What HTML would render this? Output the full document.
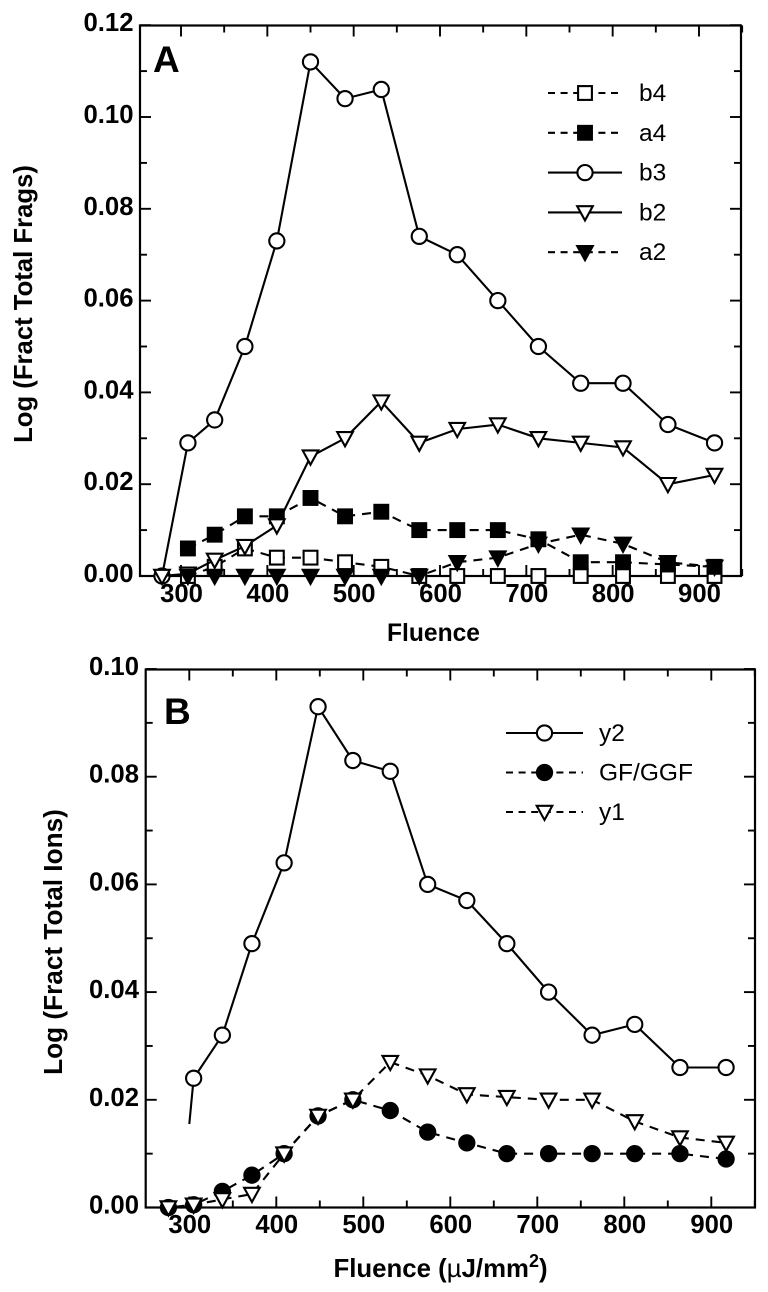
<!DOCTYPE html>
<html>
<head>
<meta charset="utf-8">
<style>
html,body{margin:0;padding:0;background:#fff;}
svg{display:block;font-family:"Liberation Sans",sans-serif;}
</style>
</head>
<body>
<svg id="chart" xmlns="http://www.w3.org/2000/svg" width="768" height="1292" viewBox="0 0 768 1292">
<rect width="768" height="1292" fill="#fff"/>
</svg>
<script>
// Shared tick labels
const xTickLabelsA = ['300','400','500','600','700','800','900'];
const xTickLabelsB = ['300','400','500','600','700','800','900'];
const yTickLabelsA = ['0.00','0.02','0.04','0.06','0.08','0.10','0.12'];
const yTickLabelsB = ['0.00','0.02','0.04','0.06','0.08','0.10'];

// Panel A data
const fluenceA = [278,308,339,374,411,450,490,532,576,620,667,714,763,812,864,918];
const b4Values = [null,0,0.002,0.006,0.004,0.004,0.003,0.002,0,0,0,0,0,0,0,0];
const a4Values = [null,0.006,0.009,0.013,0.013,0.017,0.013,0.014,0.010,0.010,0.010,0.008,0.003,0.003,0.0025,0.002];
const b3Values = [0,0.029,0.034,0.050,0.073,0.112,0.104,0.106,0.074,0.070,0.060,0.050,0.042,0.042,0.033,0.029];
const b2Values = [0,0.0005,0.0035,0.0065,0.011,0.026,0.030,0.038,0.029,0.032,0.033,0.030,0.029,0.028,0.020,0.022];
const a2Values = [null,0,0,0,0,0,0,0,0,0.003,0.004,0.007,0.009,0.007,0.003,0.002];

// Panel B data
const fluenceB = [276,305,338,372,409,448,488,531,574,619,665,713,763,812,864,917];
const y2Values = [null,0.024,0.032,0.049,0.064,0.093,0.083,0.081,0.060,0.057,0.049,0.040,0.032,0.034,0.026,0.026];
const gfValues = [0,0.0005,0.003,0.006,0.010,0.017,0.020,0.018,0.014,0.012,0.010,0.010,0.010,0.010,0.010,0.009];
const y1Values = [0,0.0005,0.0015,0.0025,0.010,0.017,0.020,0.027,0.0245,0.021,0.0205,0.020,0.020,0.016,0.013,0.012];
const y2StubFluence = [300];
const y2StubValue = [0.0155];

const svg = document.getElementById('chart');
const NS = 'http://www.w3.org/2000/svg';

function make(tag, attrs, parent) {
  const el = document.createElementNS(NS, tag);
  for (const k in attrs) el.setAttribute(k, attrs[k]);
  (parent || svg).appendChild(el);
  return el;
}

function drawMarker(group, kind, cx, cy) {
  const sw = 2.1;
  let el;
  if (kind === 'open-square' || kind === 'filled-square') {
    el = make('rect', {x: cx - 6.9, y: cy - 6.9, width: 13.8, height: 13.8, fill: kind === 'open-square' ? '#fff' : '#000', stroke: '#000', 'stroke-width': sw}, group);
  } else if (kind === 'open-circle' || kind === 'filled-circle') {
    el = make('circle', {cx: cx, cy: cy, r: 7.6, fill: kind === 'open-circle' ? '#fff' : '#000', stroke: '#000', 'stroke-width': sw}, group);
  } else {
    const pts = (cx - 7.8) + ',' + (cy - 6.2) + ' ' + (cx + 7.8) + ',' + (cy - 6.2) + ' ' + cx + ',' + (cy + 8);
    el = make('polygon', {points: pts, fill: kind === 'open-triangle' ? '#fff' : '#000', stroke: '#000', 'stroke-width': sw, 'stroke-linejoin': 'miter'}, group);
  }
  
  
}

function drawPanel(p) {
  const xs = v => p.x0 + (v - 600) * p.xScale;
  const ys = v => p.yZero - v * p.yScale;

  const frame = make('g', {stroke: '#000', 'stroke-width': 2.2, fill: 'none'});
  
  
  make('rect', {x: p.left, y: p.top, width: p.right - p.left, height: p.yZero - p.top}, frame);

  // x ticks, top and bottom
  p.xLabels.forEach((lab, i) => {
    const val = parseFloat(lab);
    [[val, 11], [val + 50, 7]].forEach(t => {
      const x = xs(t[0]);
      make('line', {x1: x, x2: x, y1: p.yZero, y2: p.yZero - t[1], 'stroke-width': 1.9}, frame);
      make('line', {x1: x, x2: x, y1: p.top, y2: p.top + t[1], 'stroke-width': 1.9}, frame);
    });
    const text = make('text', {x: xs(val) + 0.5, y: p.xLabelY, 'text-anchor': 'middle', 'font-size': 25.7, 'font-weight': 'bold', fill: '#000'});
    text.textContent = lab;
    
    
  });

  // y ticks, left and right
  p.yLabels.forEach((lab, i) => {
    const val = parseFloat(lab);
    const y = ys(val);
    if (i > 0) {
      make('line', {x1: p.left, x2: p.left + 11, y1: y, y2: y, 'stroke-width': 1.9}, frame);
      make('line', {x1: p.right, x2: p.right - 11, y1: y, y2: y, 'stroke-width': 1.9}, frame);
    }
    if (i < p.yLabels.length - 1) {
      const m = ys(val + 0.01);
      make('line', {x1: p.left, x2: p.left + 7, y1: m, y2: m, 'stroke-width': 1.9}, frame);
      make('line', {x1: p.right, x2: p.right - 7, y1: m, y2: m, 'stroke-width': 1.9}, frame);
    }
    const text = make('text', {x: p.yLabelX, y: y + 6, 'text-anchor': 'end', 'font-size': 25.7, 'font-weight': 'bold', fill: '#000'});
    text.textContent = lab;
    
    
  });

  // series lines + markers
  p.series.forEach(s => {
    const g = make('g', {});
    
    
    const pts = [];
    if (s.stubX) pts.push(xs(s.stubX[0]) + ',' + ys(s.stubY[0]));
    s.values.forEach((v, i) => { if (v !== null) pts.push(xs(p.fluence[i]) + ',' + ys(v)); });
    make('polyline', {points: pts.join(' '), fill: 'none', stroke: '#000', 'stroke-width': 2.1, 'stroke-dasharray': s.dashed ? '9 7' : 'none', 'stroke-dashoffset': s.dashOffset || 0}, g);
    s.values.forEach((v, i) => { if (v !== null) drawMarker(g, s.marker, xs(p.fluence[i]), ys(v)); });
  });

  // legend
  p.legendOrder.forEach((s, i) => {
    const y = p.legendY[0] + i * p.legendY[1];
    const g = make('g', {});
    
    
    make('line', {x1: p.legendX[0], x2: p.legendX[2], y1: y, y2: y, stroke: '#000', 'stroke-width': 2.1, 'stroke-dasharray': s.dashed ? '7 5.6' : 'none'}, g);
    drawMarker(g, s.marker, p.legendX[1], y);
    const t = make('text', {x: p.legendX[3], y: y + 8, 'font-size': 24.5, fill: '#000'}, g);
    t.textContent = s.name;
  });

  // panel letter
  const letter = make('text', {x: p.letter[0], y: p.letter[1], 'font-size': 37, 'font-weight': 'bold', fill: '#000'});
  letter.textContent = p.letter[2];
  
  

  // y title
  const yt = make('text', {x: 0, y: 0, transform: 'translate(' + p.yTitle[0] + ',' + p.yTitle[1] + ') rotate(-90)', 'text-anchor': 'middle', 'font-size': p.yTitle[3], 'font-weight': 'bold', fill: '#000'});
  yt.textContent = p.yTitle[2];
  
  
}

const seriesA = [
  {name: 'b4', values: b4Values, marker: 'open-square', dashed: true},
  {name: 'b3', values: b3Values, marker: 'open-circle', dashed: false},
  {name: 'a4', values: a4Values, marker: 'filled-square', dashed: true},
  {name: 'b2', values: b2Values, marker: 'open-triangle', dashed: false},
  {name: 'a2', values: a2Values, marker: 'filled-triangle', dashed: true}
];
drawPanel({
  id: 'panel-a', fluence: fluenceA, series: seriesA,
  legendOrder: [seriesA[0], seriesA[2], seriesA[1], seriesA[3], seriesA[4]],
  x0: 440, xScale: 0.8633, yZero: 576, yScale: 4590,
  left: 140, right: 741, top: 25.5,
  xLabels: xTickLabelsA, yLabels: yTickLabelsA,
  xLabelY: 602, yLabelX: 133.5,
  legendX: [548, 585, 622, 639], legendY: [93, 39.8],
  letter: [153, 72, 'A'],
  yTitle: [32, 304, 'Log (Fract Total Frags)', 25.7]
});

const seriesB = [
  {name: 'y2', values: y2Values, marker: 'open-circle', dashed: false, stubX: y2StubFluence, stubY: y2StubValue},
  {name: 'GF/GGF', values: gfValues, marker: 'filled-circle', dashed: true},
  {name: 'y1', values: y1Values, marker: 'open-triangle', dashed: true, dashOffset: 9.2}
];
drawPanel({
  id: 'panel-b', fluence: fluenceB, series: seriesB,
  legendOrder: seriesB,
  x0: 450.3, xScale: 0.87, yZero: 1207.5, yScale: 5385,
  left: 145.7, right: 755, top: 669.5,
  xLabels: xTickLabelsB, yLabels: yTickLabelsB,
  xLabelY: 1233, yLabelX: 139,
  legendX: [506, 544.5, 583, 599], legendY: [733, 39.5],
  letter: [164, 724, 'B'],
  yTitle: [62, 942, 'Log (Fract Total Ions)', 26.2]
});

const titleA = make('text', {x: 433.5, y: 641, 'text-anchor': 'middle', 'font-size': 24.6, 'font-weight': 'bold', fill: '#000'});
titleA.textContent = 'Fluence';



const titleB = make('text', {x: 440.5, y: 1277, 'text-anchor': 'middle', 'font-size': 25.8, 'font-weight': 'bold', fill: '#000'});


const t1 = make('tspan', {}, titleB);
t1.textContent = 'Fluence (';
const t2 = make('tspan', {'font-weight': 'normal'}, titleB);
t2.textContent = 'µ';
const t3 = make('tspan', {}, titleB);
t3.textContent = 'J/mm';
const t4 = make('tspan', {dy: -10, 'font-size': 18}, titleB);
t4.textContent = '2';
const t5 = make('tspan', {dy: 10}, titleB);
t5.textContent = ')';
</script>
</body>
</html>
